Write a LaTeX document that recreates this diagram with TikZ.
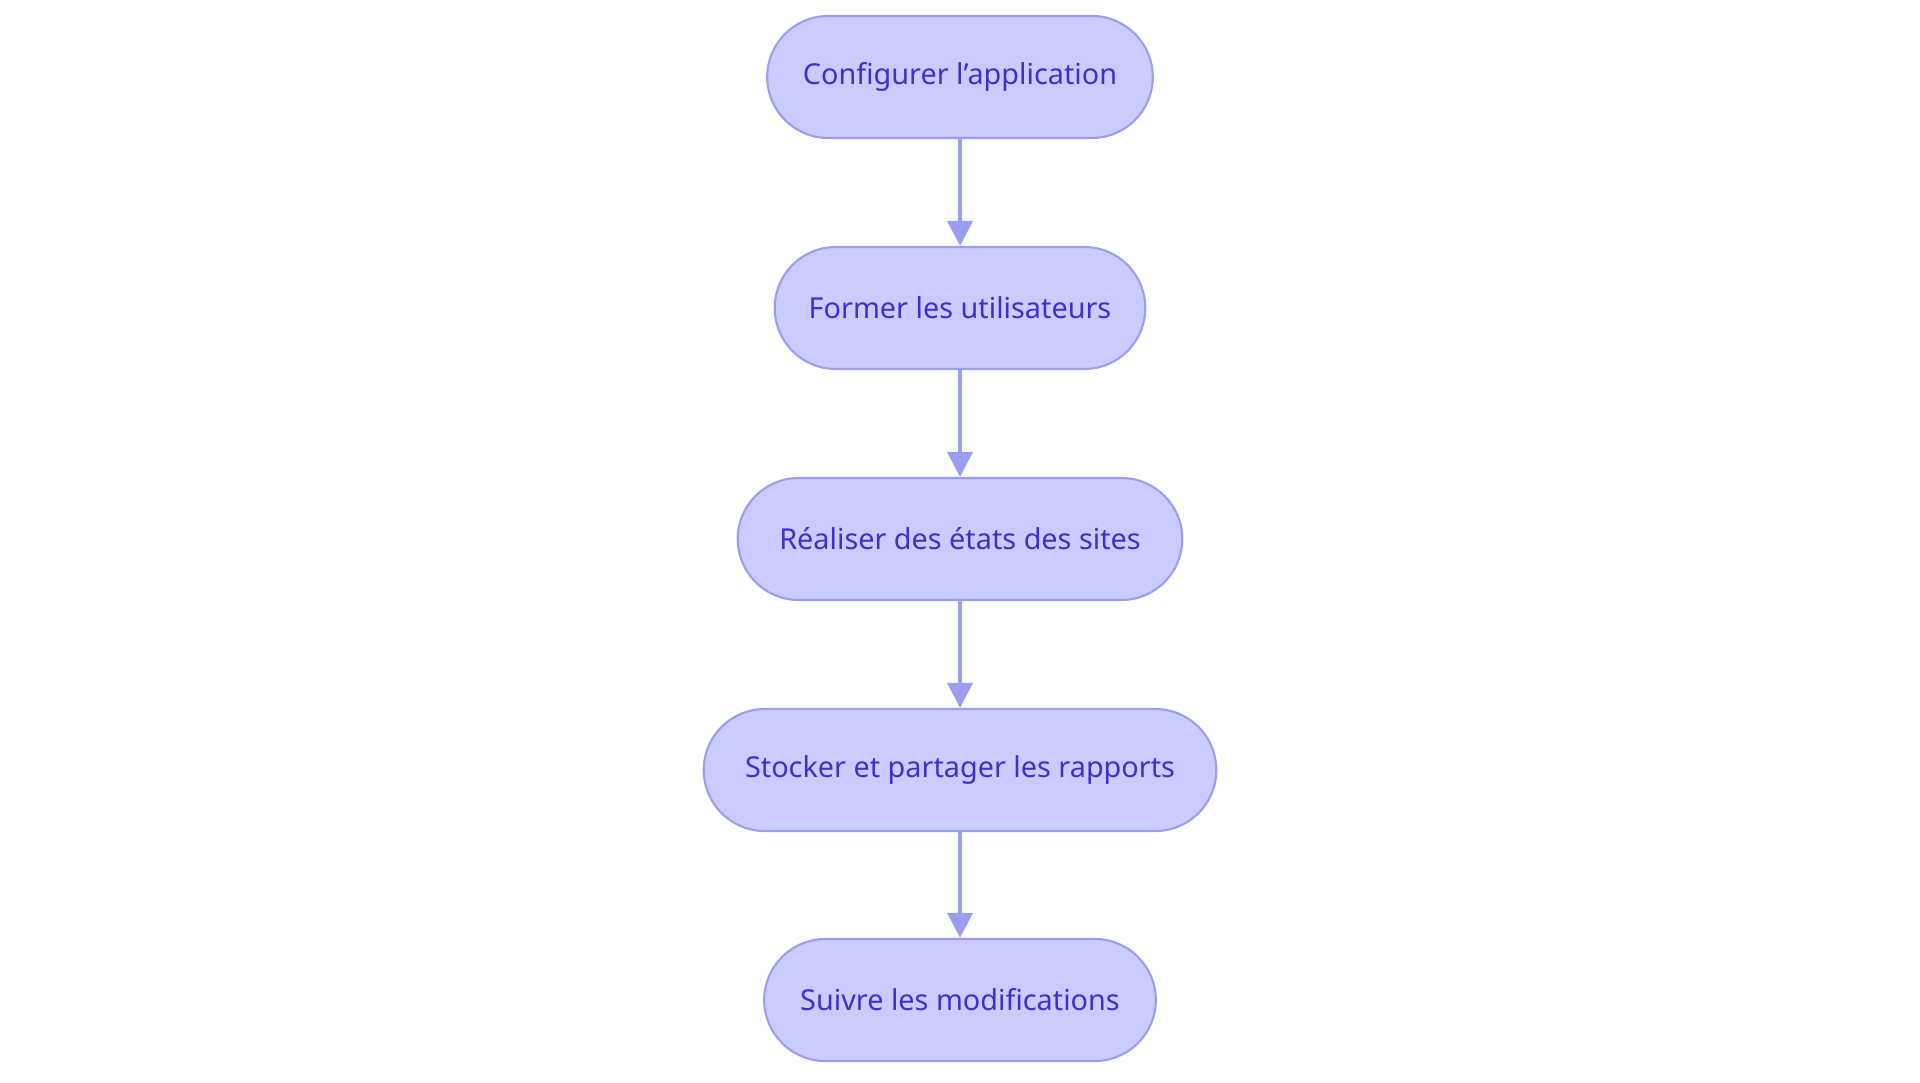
\documentclass[tikz,border=0pt]{standalone}
\usepackage{fontspec}
\setmainfont{Noto Sans}
\usetikzlibrary{shapes.misc,arrows.meta}
\definecolor{boxfill}{HTML}{CACCFF}
\definecolor{boxline}{HTML}{9A9EF0}
\definecolor{boxtext}{HTML}{3A32D0}
\tikzset{
  stage/.style={rounded rectangle, draw=boxline, fill=boxfill, text=boxtext,
    minimum height=1.22cm, font=\fontsize{8.2}{10}\selectfont, line width=0.6pt},
  flow/.style={draw=boxline, line width=1.1pt, -{Triangle[length=0.25cm,width=0.25cm]}}
}
\begin{document}
\begin{tikzpicture}
    \useasboundingbox (0,0) rectangle (19.2,-10.83);
    \node[stage, minimum width=4.09cm] (config) at (9.6,-0.77) {Configurer l\symbol{39}application};
    \node[stage, minimum width=3.94cm] (former) at (9.6,-3.08) {Former les utilisateurs};
    \node[stage, minimum width=4.68cm] (etats) at (9.6,-5.39) {Réaliser des états des sites};
    \node[stage, minimum width=5.36cm] (stocker) at (9.6,-7.70) {Stocker et partager les rapports};
    \node[stage, minimum width=4.15cm] (suivre) at (9.6,-10.0) {Suivre les modifications};
    \draw[flow] (config) -- (former);
    \draw[flow] (former) -- (etats);
    \draw[flow] (etats) -- (stocker);
    \draw[flow] (stocker) -- (suivre);
\end{tikzpicture}
\end{document}
